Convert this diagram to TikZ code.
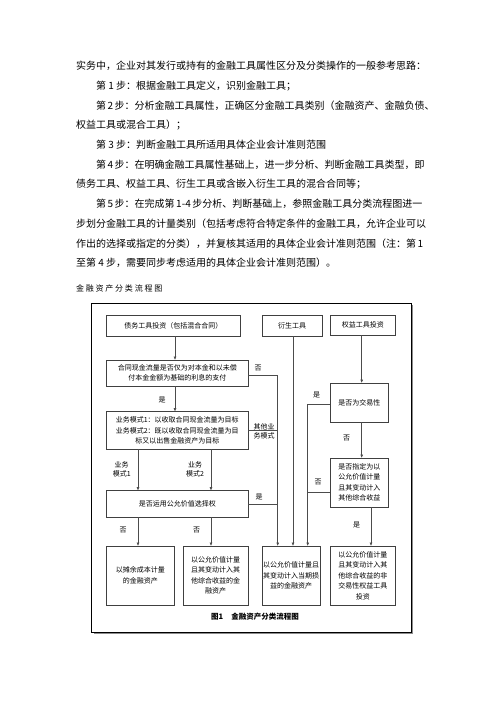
\documentclass[tikz,border=0pt]{standalone}
\usepackage{fontspec}
\setmainfont{Noto Sans CJK SC}
\newfontfamily\titlefont[LetterSpace=22]{Noto Sans CJK SC}
\usetikzlibrary{arrows.meta}
\XeTeXlinebreaklocale "zh"
\XeTeXlinebreakskip=0pt plus 2pt
\newcommand{\fullline}[1]{\makebox[344pt][s]{#1}}
\newcommand{\fulllineb}[1]{\makebox[324pt][s]{#1}}
\begin{document}
\begin{tikzpicture}[x=1pt,y=-1pt,
  box/.style={draw=black!75, line width=0.6pt, inner sep=0pt, font=\fontsize{7}{10.5}\selectfont, align=center},
  lbl/.style={font=\fontsize{7}{9}\selectfont, inner sep=0pt, align=center},
  conn/.style={draw=black!70, line width=0.6pt},
  arr/.style={conn, -{Triangle[length=3.2pt,width=2.6pt]}},
  bodytext/.style={anchor=west, inner sep=0pt, font=\fontsize{10}{12}\selectfont}
]
\useasboundingbox (0,0) rectangle (496,702);
\fill[white] (0,0) rectangle (496,702);

% paragraph text
\node[bodytext] (t1) at (76,66) {\fullline{实务中，企业对其发行或持有的金融工具属性区分及分类操作的一般参考思路：}};
\node[bodytext] (t2) at (96,85.7) {第 1 步：根据金融工具定义，识别金融工具；};
\node[bodytext] (t3) at (96,105.4) {\fulllineb{第 2 步：分析金融工具属性，正确区分金融工具类别（金融资产、金融负债、}};
\node[bodytext] (t4) at (76,125) {权益工具或混合工具）；};
\node[bodytext] (t5) at (96,144.8) {第 3 步：判断金融工具所适用具体企业会计准则范围};
\node[bodytext] (t6) at (96,164.5) {\fulllineb{第 4 步：在明确金融工具属性基础上，进一步分析、判断金融工具类型，即}};
\node[bodytext] (t7) at (76,184.2) {债务工具、权益工具、衍生工具或含嵌入衍生工具的混合合同等；};
\node[bodytext] (t8) at (96,204) {\fulllineb{第 5 步：在完成第 1-4 步分析、判断基础上，参照金融工具分类流程图进一}};
\node[bodytext] (t9) at (76,223.6) {\fullline{步划分金融工具的计量类别（包括考虑符合特定条件的金融工具，允许企业可以}};
\node[bodytext] (t10) at (76,243.3) {\fullline{作出的选择或指定的分类），并复核其适用的具体企业会计准则范围（注：第 1}};
\node[bodytext] (t11) at (76,263) {至第 4 步，需要同步考虑适用的具体企业会计准则范围）。};
\node[anchor=west, inner sep=0pt, font=\titlefont\fontsize{8}{10}\selectfont] (title) at (76,288) {金融资产分类流程图};

% frame
\fill[black!45] (93.5,305) rectangle (413,634);
\filldraw[fill=white, draw=black, line width=0.7pt] (91.7,303) rectangle (411,632);

% boxes
\node[box, minimum width=133.3pt, minimum height=21pt] (A) at (173.3,325.5) {债务工具投资（包括混合合同）};
\node[box, minimum width=60pt, minimum height=21pt] (B) at (292,325.5) {衍生工具};
\node[box, minimum width=64.3pt, minimum height=20pt] (C) at (362.8,325) {权益工具投资};
\node[box, minimum width=141.3pt, minimum height=26pt] (D) at (177.3,373) {合同现金流量是否仅为对本金和以未偿\\付本金金额为基础的利息的支付};
\node[box, minimum width=141.3pt, minimum height=37.3pt, font=\fontsize{7}{10}\selectfont] (E) at (177.3,430.3) {业务模式1：以收取合同现金流量为目标\\[0.6pt]业务模式2：既以收取合同现金流量为目\\标又以出售金融资产为目标};
\node[box, minimum width=141.3pt, minimum height=26.3pt] (F) at (177.3,503.8) {是否运用公允价值选择权};
\node[box, minimum width=67.3pt, minimum height=59pt] (G) at (140.3,575.5) {以摊余成本计量\\的金融资产};
\node[box, minimum width=65pt, minimum height=59pt] (H) at (215.5,575.5) {以公允价值计量\\且其变动计入其\\他综合收益的金\\融资产};
\node[box, minimum width=58pt, minimum height=59pt] (I) at (291,575.5) {以公允价值计量且\\其变动计入当期损\\益的金融资产};
\node[box, minimum width=64.3pt, minimum height=59pt] (J) at (362.8,575.5) {以公允价值计量\\且其变动计入其\\他综合收益的非\\交易性权益工具\\投资};
\node[box, minimum width=57.3pt, minimum height=39pt] (K) at (359.3,402.5) {是否为交易性};
\node[box, minimum width=57.3pt, minimum height=49pt] (L) at (359.3,482.5) {是否指定为以\\公允价值计量\\且其变动计入\\其他综合收益};

% caption
\node[inner sep=0pt, font=\bfseries\fontsize{7.5}{9}\selectfont] (cap) at (255,617) {图1\hspace{8pt}金融资产分类流程图};

% column coordinates
\coordinate (xA) at (175,0);
\coordinate (xL) at (138,0);
\coordinate (xR) at (211,0);
\coordinate (xN) at (277.7,0);
\coordinate (xB) at (293,0);
\coordinate (xY) at (307.7,0);
\coordinate (xC) at (361.7,0);
\coordinate (xJ) at (371,0);
\coordinate (yD) at (0,375);
\coordinate (yK) at (0,404);
\coordinate (yL) at (0,492.7);

% connectors
\draw[arr] (A.south -| xA) -- (D.north -| xA);
\draw[arr] (D.south -| xA) -- (E.north -| xA);
\draw[arr] (E.south -| xL) -- (F.north -| xL);
\draw[arr] (E.south -| xR) -- (F.north -| xR);
\draw[arr] (F.south -| xL) -- (G.north -| xL);
\draw[arr] (F.south -| xR) -- (H.north -| xR);
\draw[arr] (D.east |- yD) -| (I.north -| xN);
\draw[conn] (E.east) -- (E.east -| xN);
\draw[conn] (F.east) -- (F.east -| xN);
\draw[arr] (B.south -| xB) -- (I.north -| xB);
\draw[arr] (K.west |- yK) -| (I.north -| xY);
\draw[conn] (L.west |- yL) -- (L.west |- yL -| xY);
\draw[arr] (C.south -| xC) -- (K.north -| xC);
\draw[arr] (K.south -| xC) -- (L.north -| xC);
\draw[arr] (L.south -| xJ) -- (J.north -| xJ);

% labels
\node[lbl] (l1) at (258,368) {否};
\node[lbl] (l2) at (264,431) {其他业\\务模式};
\node[lbl] (l3) at (259,497) {是};
\node[lbl] (l4) at (162,400) {是};
\node[lbl] (l5) at (121.7,469) {业务\\模式1};
\node[lbl] (l6) at (195,469) {业务\\模式2};
\node[lbl] (l7) at (123,530) {否};
\node[lbl] (l8) at (196.7,530) {否};
\node[lbl] (l9) at (316.7,395) {是};
\node[lbl] (l10) at (346.7,438) {否};
\node[lbl] (l11) at (318,482) {否};
\node[lbl] (l12) at (356.7,525) {是};
\end{tikzpicture}
\end{document}
